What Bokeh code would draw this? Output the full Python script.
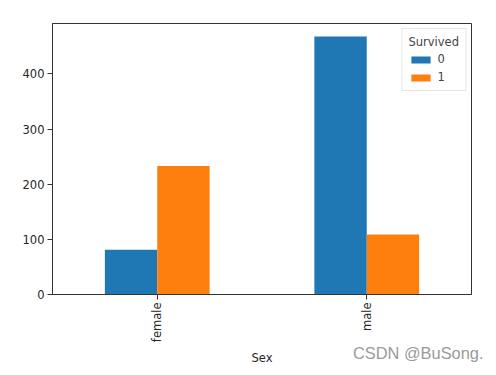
import math
from bokeh.plotting import figure
from bokeh.models import Range1d, ColumnDataSource, FixedTicker, Title, Legend, LegendItem
from bokeh.transform import dodge
from bokeh.embed import file_html
from bokeh.resources import INLINE

categories = ["female", "male"]
survived_0 = [81, 468]
survived_1 = [233, 109]
series_labels = ["0", "1"]
colors = ["#1f77b4", "#ff7f0e"]

src = ColumnDataSource(dict(pos=list(range(len(categories))), s0=survived_0, s1=survived_1))

ymax = max(survived_0 + survived_1) * 1.05
p = figure(width=496, height=375, output_backend="svg", toolbar_location=None,
           x_range=Range1d(-0.5, len(categories) - 0.5), y_range=Range1d(0, ymax),
           min_border_left=52, min_border_right=25, min_border_top=23, min_border_bottom=81)

r0 = p.vbar(x=dodge("pos", -0.125), top="s0", width=0.25, source=src, fill_color=colors[0], line_color=None)
r1 = p.vbar(x=dodge("pos", 0.125), top="s1", width=0.25, source=src, fill_color=colors[1], line_color=None)

p.grid.visible = False
p.outline_line_color = "#333333"
p.outline_line_width = 1
p.background_fill_color = "white"
p.border_fill_color = "white"

font = "DejaVu Sans"
for ax in (p.xaxis[0], p.yaxis[0]):
    ax.axis_line_color = "#333333"
    ax.major_tick_line_color = "#333333"
    ax.major_tick_in = 0
    ax.major_tick_out = 5
    ax.minor_tick_line_color = None
    ax.major_label_text_font = font
    ax.major_label_text_font_size = "11.5px"
    ax.major_label_text_color = "#262626"
    ax.major_label_standoff = 3

p.yaxis.ticker = FixedTicker(ticks=[0, 100, 200, 300, 400])
p.xaxis.ticker = FixedTicker(ticks=list(range(len(categories))))
p.xaxis.major_label_overrides = {i: c for i, c in enumerate(categories)}
p.xaxis.major_label_orientation = math.pi / 2
p.xaxis.axis_label = "Sex"
p.xaxis.axis_label_text_font = font
p.xaxis.axis_label_text_font_size = "11.5px"
p.xaxis.axis_label_text_font_style = "normal"
p.xaxis.axis_label_text_color = "#262626"
p.xaxis.axis_label_standoff = 6

legend = Legend(items=[LegendItem(label=series_labels[0], renderers=[r0]),
                       LegendItem(label=series_labels[1], renderers=[r1])],
                location="top_right", title="Survived")
legend.title_text_font = font
legend.title_text_font_size = "11.5px"
legend.title_text_font_style = "normal"
legend.label_text_font = font
legend.label_text_font_size = "11.5px"
legend.glyph_width = 24
legend.glyph_height = 9
legend.label_height = 12
legend.spacing = 4
legend.padding = 6
legend.margin = 5
legend.border_line_color = "#cccccc"
legend.title_standoff = 3
p.add_layout(legend)

wm = Title(text="CSDN @BuSong.", align="right", vertical_align="top", offset=-12, standoff=-50,
           text_font="Liberation Sans", text_font_size="16.4px", text_font_style="normal",
           text_color="#9a9a9a")
p.add_layout(wm, "below")

open("out.html", "w").write(file_html(p, INLINE))
